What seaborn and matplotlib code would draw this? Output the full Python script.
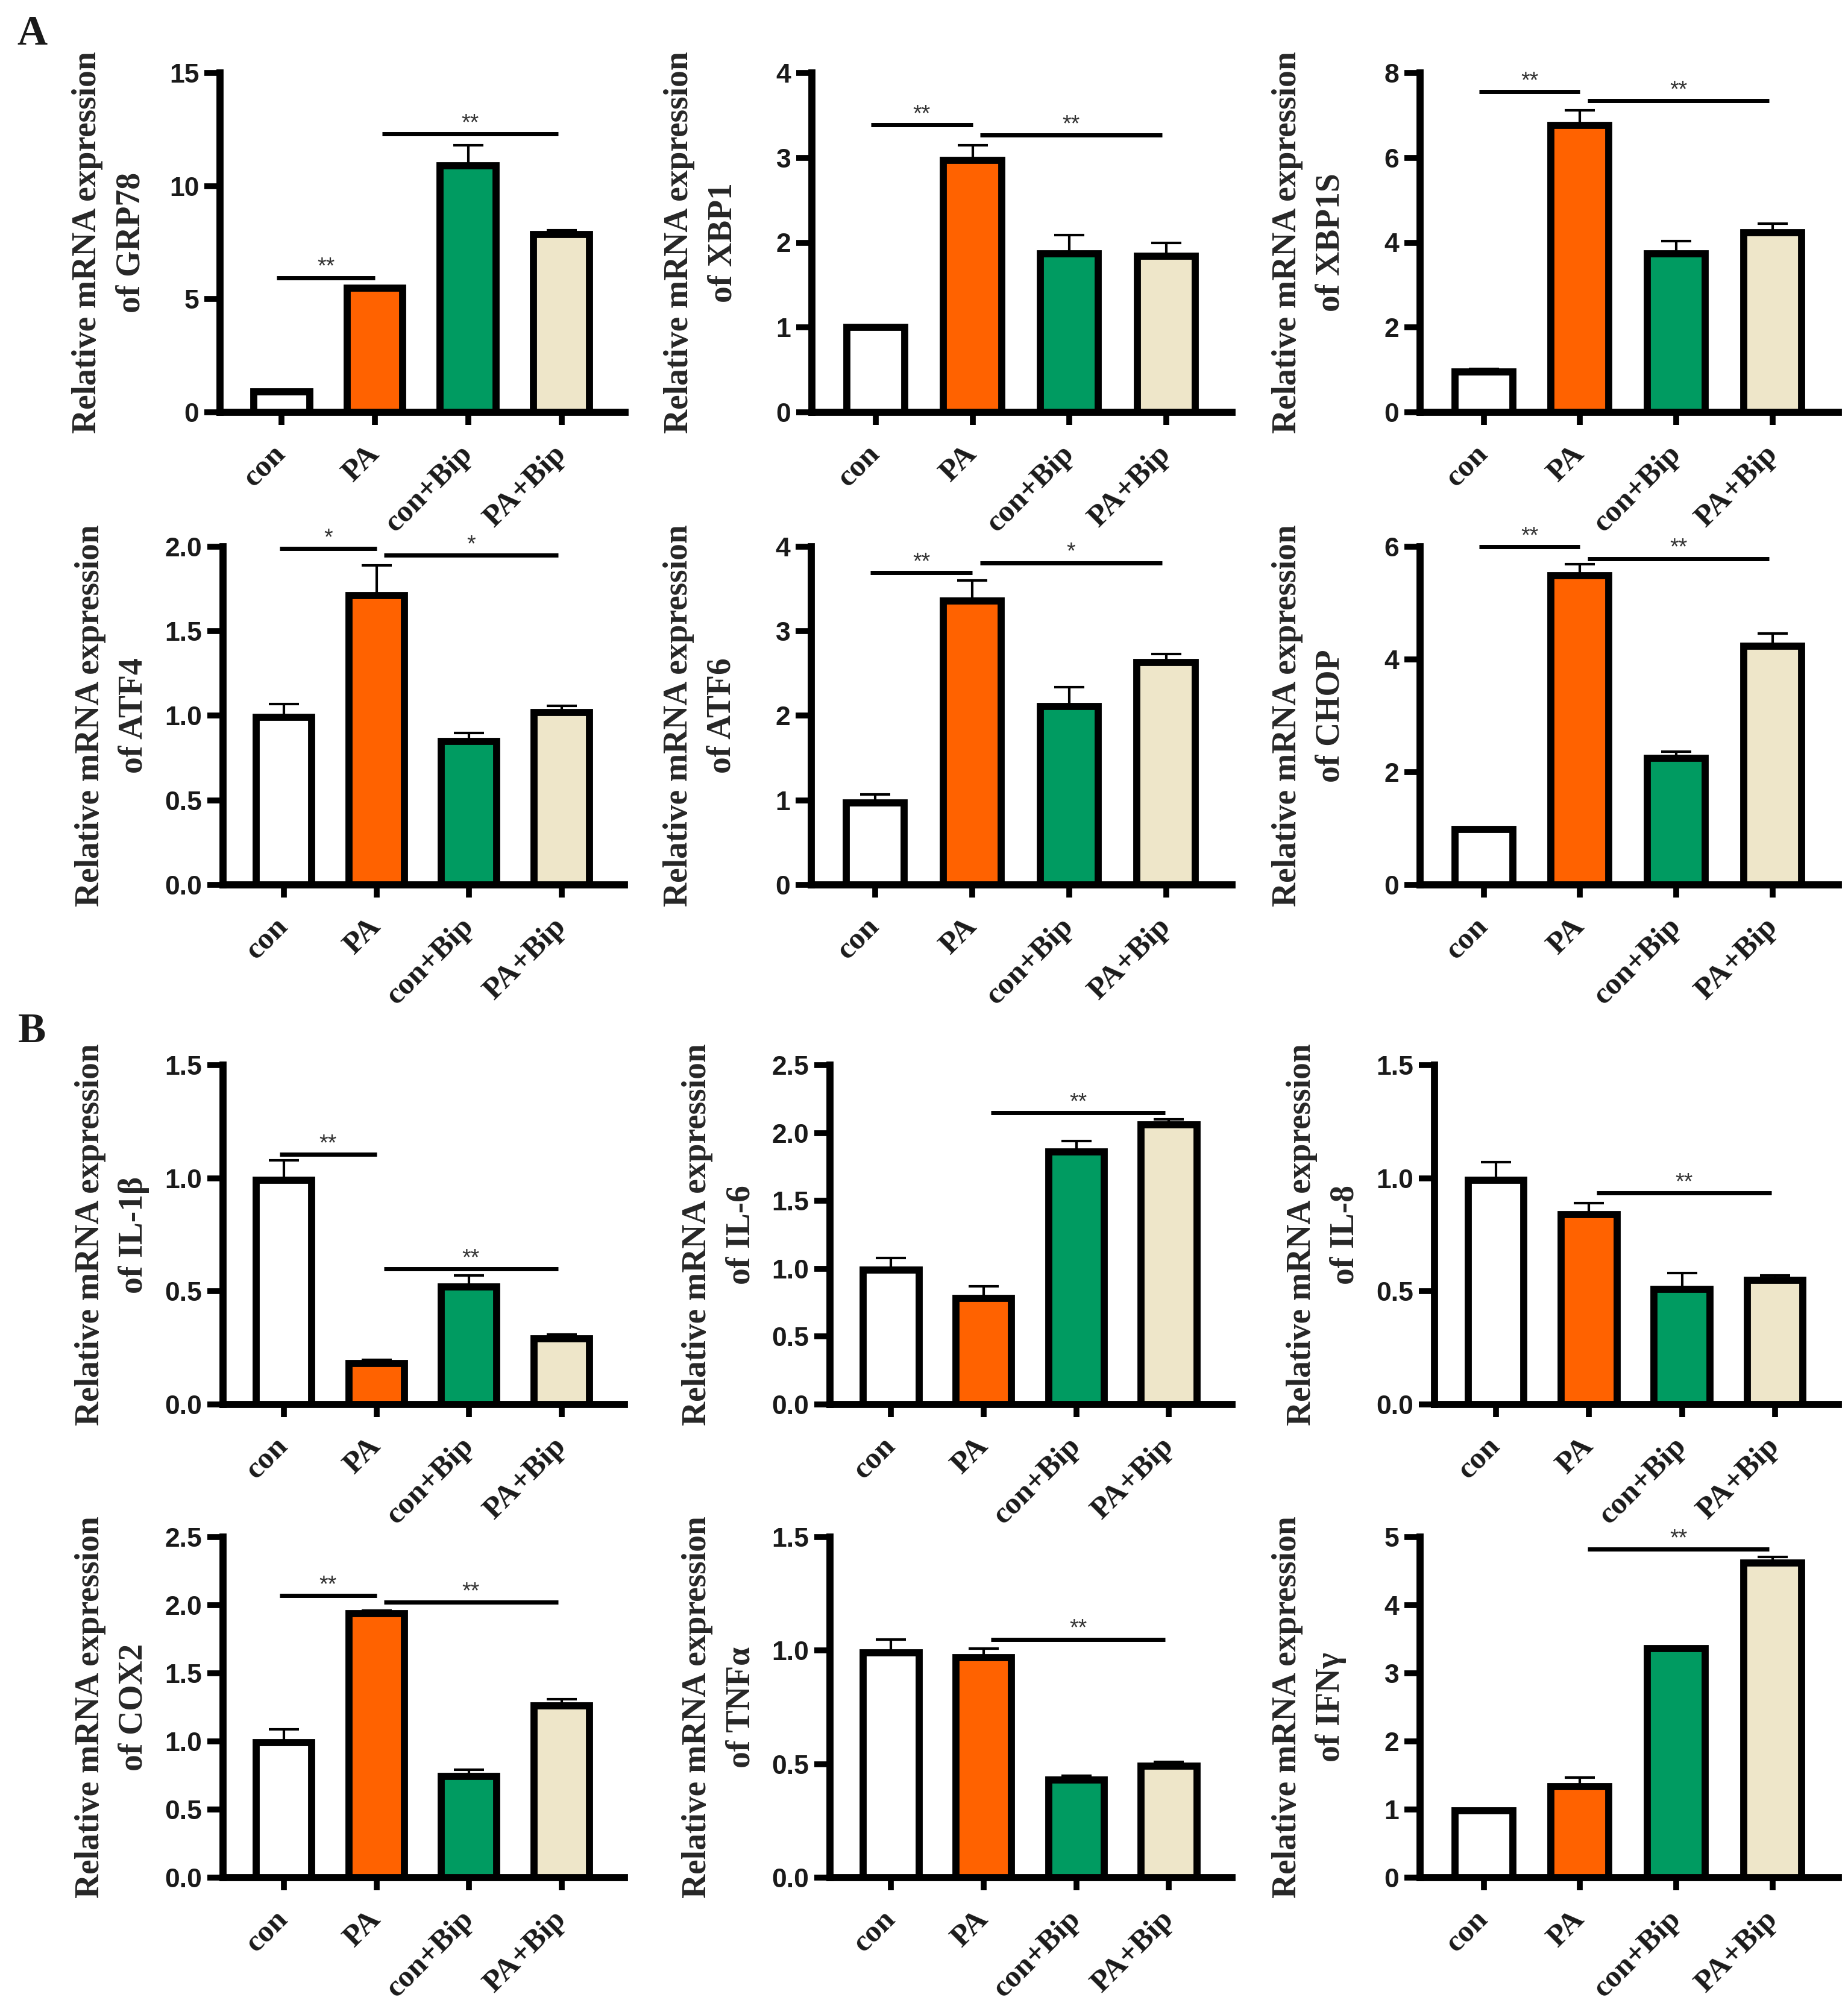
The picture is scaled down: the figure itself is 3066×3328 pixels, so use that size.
import numpy as np
import pandas as pd
import matplotlib
matplotlib.use("Agg")
import matplotlib.pyplot as plt
import seaborn as sns

# ---------------- data ----------------
groups = ["con", "PA", "con+Bip", "PA+Bip"]
bar_colors = ["#FFFFFF", "#FF6200", "#009B61", "#EEE6C9"]

genes = ["GRP78", "XBP1", "XBP1S", "ATF4", "ATF6", "CHOP",
         "IL-1β", "IL-6", "IL-8", "COX2", "TNFα", "IFNγ"]

grp78_mean = [0.9, 5.5, 10.9, 7.85]
grp78_sem = [0.05, 0.05, 0.9, 0.2]
xbp1_mean = [1.0, 2.97, 1.87, 1.84]
xbp1_sem = [0.02, 0.18, 0.22, 0.16]
xbp1s_mean = [0.95, 6.76, 3.74, 4.24]
xbp1s_sem = [0.08, 0.36, 0.29, 0.21]
atf4_mean = [0.99, 1.71, 0.85, 1.02]
atf4_sem = [0.08, 0.18, 0.05, 0.04]
atf6_mean = [0.97, 3.36, 2.11, 2.63]
atf6_sem = [0.10, 0.24, 0.23, 0.10]
chop_mean = [0.98, 5.49, 2.25, 4.24]
chop_sem = [0.03, 0.20, 0.11, 0.22]
il1b_mean = [0.99, 0.18, 0.52, 0.29]
il1b_sem = [0.09, 0.016, 0.05, 0.02]
il6_mean = [0.99, 0.78, 1.86, 2.06]
il6_sem = [0.09, 0.09, 0.08, 0.04]
il8_mean = [0.99, 0.84, 0.51, 0.55]
il8_sem = [0.08, 0.05, 0.07, 0.02]
cox2_mean = [0.99, 1.94, 0.745, 1.26]
cox2_sem = [0.10, 0.02, 0.045, 0.05]
tnfa_mean = [0.99, 0.97, 0.43, 0.49]
tnfa_sem = [0.06, 0.04, 0.02, 0.02]
ifng_mean = [0.98, 1.34, 3.36, 4.62]
ifng_sem = [0.02, 0.13, 0.03, 0.09]

y_max = [15, 4, 8, 2.0, 4, 6, 1.5, 2.5, 1.5, 2.5, 1.5, 5]
y_step = [5, 1, 2, 0.5, 1, 2, 0.5, 0.5, 0.5, 0.5, 0.5, 1]

# significance: (group i, group j, height, label)
grp78_sig = [(0, 1, 5.95, "**"), (1, 3, 12.3, "**")]
xbp1_sig = [(0, 1, 3.39, "**"), (1, 3, 3.27, "**")]
xbp1s_sig = [(0, 1, 7.56, "**"), (1, 3, 7.34, "**")]
atf4_sig = [(0, 1, 1.99, "*"), (1, 3, 1.95, "*")]
atf6_sig = [(0, 1, 3.69, "**"), (1, 3, 3.81, "*")]
chop_sig = [(0, 1, 6.0, "**"), (1, 3, 5.79, "**")]
il1b_sig = [(0, 1, 1.106, "**"), (1, 3, 0.6, "**")]
il6_sig = [(1, 3, 2.15, "**")]
il8_sig = [(1, 3, 0.935, "**")]
cox2_sig = [(0, 1, 2.07, "**"), (1, 3, 2.02, "**")]
tnfa_sig = [(1, 3, 1.05, "**")]
ifng_sig = [(1, 3, 4.82, "**")]

means = [grp78_mean, xbp1_mean, xbp1s_mean, atf4_mean, atf6_mean, chop_mean,
         il1b_mean, il6_mean, il8_mean, cox2_mean, tnfa_mean, ifng_mean]
sems = [grp78_sem, xbp1_sem, xbp1s_sem, atf4_sem, atf6_sem, chop_sem,
        il1b_sem, il6_sem, il8_sem, cox2_sem, tnfa_sem, ifng_sem]
sigs = [grp78_sig, xbp1_sig, xbp1s_sig, atf4_sig, atf6_sig, chop_sig,
        il1b_sig, il6_sig, il8_sig, cox2_sig, tnfa_sig, ifng_sig]

# ---------------- style ----------------
sns.set_style("ticks")
plt.rcParams["font.family"] = ["Liberation Sans", "DejaVu Sans"]
TXT = "#1a1a1a"
plt.rcParams["text.color"] = TXT
plt.rcParams["xtick.color"] = "black"
plt.rcParams["ytick.color"] = "black"
plt.rcParams["xtick.labelcolor"] = TXT
plt.rcParams["ytick.labelcolor"] = TXT
SERIF = ["Liberation Serif", "DejaVu Serif"]

W, H = 3066, 3328
fig = plt.figure(figsize=(W / 100, H / 100), dpi=100)

# layout in pixels: (top, zero) per row and (left, right) per column
rows_px = [(121, 684), (907, 1468), (1767, 2330), (2550, 3115)]
cols_px = [
    [(365, 1037), (1347, 2044), (2356, 3050)],
    [(370, 1036), (1346, 2044), (2356, 3050)],
    [(370, 1036), (1377, 2044), (2380, 3050)],
    [(370, 1036), (1377, 2044), (2356, 3050)],
]

LW = 8.5
for k, gene in enumerate(genes):
    r, c = divmod(k, 3)
    top, zero = rows_px[r]
    left, right = cols_px[r][c]
    ax = fig.add_axes([left / W, 1 - zero / H, (right - left) / W, (zero - top) / H])

    df = pd.DataFrame({"group": groups, "value": means[k], "sem": sems[k]})
    sns.barplot(data=df, x="group", y="value", hue="group", order=groups,
                hue_order=groups, palette=bar_colors, saturation=1, width=0.6,
                edgecolor="black", linewidth=LW, errorbar=None,
                legend=False, ax=ax, zorder=3)

    bars = sorted(ax.patches, key=lambda p: p.get_x())
    for p, e in zip(bars, df["sem"]):
        xc = p.get_x() + p.get_width() / 2
        h = p.get_height()
        ax.errorbar(xc, h, yerr=[[0], [e]], fmt="none", ecolor="black",
                    elinewidth=3, capsize=18, capthick=3, zorder=2)

    for (i, j, y, lab) in sigs[k]:
        x0 = i + (0.08 if i > 0 else -0.05)
        x1 = j + (-0.04 if j == 3 else 0.0)
        ax.plot([x0, x1], [y, y], color="black", lw=5,
                solid_capstyle="butt", clip_on=False, zorder=4)
        ax.annotate(lab, xy=((x0 + x1) / 2, y), xytext=(0, 5),
                    textcoords="offset points", ha="center", va="baseline",
                    fontsize=27, color="#333333", annotation_clip=False)

    ax.set_xlim(-0.66, 3.68)
    ax.set_ylim(0, y_max[k])
    ticks = np.arange(0, y_max[k] + y_step[k] / 2, y_step[k])
    ax.set_yticks(ticks)
    if y_step[k] < 1:
        ax.set_yticklabels([f"{t:.1f}" for t in ticks])
    else:
        ax.set_yticklabels([f"{int(t)}" for t in ticks])
    for lbl in ax.get_yticklabels():
        lbl.set_fontweight("bold")

    ax.set_xticks(range(len(groups)))
    ax.set_xticklabels(groups, rotation=45, ha="right", va="center",
                       rotation_mode="anchor", family=SERIF,
                       fontweight="bold", fontsize=37)

    sns.despine(ax=ax)
    for s in ("left", "bottom"):
        ax.spines[s].set_linewidth(LW)
        ax.spines[s].set_color("black")
        ax.spines[s].set_capstyle("projecting")
    ax.tick_params(axis="y", length=19, width=7, pad=6, labelsize=32,
                   direction="out")
    ax.tick_params(axis="x", length=15, width=7, pad=30, direction="out")

    ax.set_xlabel("")
    ax.set_ylabel(f"Relative mRNA expression\nof {gene}", fontsize=40,
                  family=SERIF, fontweight="bold", linespacing=1.5)
    ax.yaxis.set_label_coords(-122 / (right - left), 0.5)
    ax.set_facecolor("none")

fig.text(28 / W, 1 - 25 / H, "A", ha="left", va="top", fontsize=50,
         family=SERIF, fontweight="bold")
fig.text(30 / W, 1 - 1680 / H, "B", ha="left", va="top", fontsize=50,
         family=SERIF, fontweight="bold")

fig.savefig("out.png", dpi=100, facecolor="white")
